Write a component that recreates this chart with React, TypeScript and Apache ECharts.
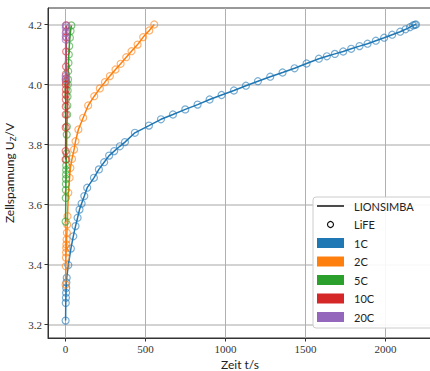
import React, { useEffect, useRef } from "react";
import * as echarts from "echarts";

const xTickValues = [0, 500, 1000, 1500, 2000];
const yTickValues = [3.2, 3.4, 3.6, 3.8, 4.0, 4.2];
const rateNames = ["1C", "2C", "5C", "10C", "20C"];
const rateColors = ["#1f77b4", "#ff7f0e", "#2ca02c", "#d62728", "#9467bd"];
const styleNames = ["LIONSIMBA", "LiFE"];

const t1C = [0, 1, 2, 3, 4, 5, 7, 17, 33, 48, 62, 75, 87, 100, 117, 135, 177, 208, 241, 272, 304, 339, 371, 433, 521, 596, 671, 748, 825, 900, 975, 1052, 1127, 1202, 1279, 1356, 1431, 1506, 1583, 1633, 1683, 1735, 1785, 1837, 1887, 1939, 1991, 2041, 2091, 2125, 2152, 2172, 2183, 2190];
const u1C = [3.213, 3.272, 3.289, 3.306, 3.322, 3.34, 3.356, 3.398, 3.453, 3.494, 3.528, 3.556, 3.583, 3.603, 3.628, 3.656, 3.689, 3.717, 3.741, 3.763, 3.778, 3.794, 3.808, 3.839, 3.863, 3.884, 3.9, 3.917, 3.933, 3.95, 3.965, 3.98, 3.996, 4.011, 4.026, 4.04, 4.054, 4.07, 4.086, 4.094, 4.102, 4.11, 4.119, 4.128, 4.136, 4.146, 4.156, 4.166, 4.176, 4.184, 4.191, 4.197, 4.199, 4.2];

const t2C = [0, 1, 2, 3, 4, 5, 6, 8, 10, 12, 17, 25, 30, 40, 53, 62, 80, 110, 141, 179, 214, 246, 277, 312, 344, 379, 412, 450, 485, 523, 554];
const u2C = [3.333, 3.394, 3.423, 3.44, 3.455, 3.467, 3.483, 3.506, 3.533, 3.561, 3.639, 3.689, 3.722, 3.752, 3.783, 3.811, 3.85, 3.889, 3.93, 3.961, 3.987, 4.008, 4.028, 4.05, 4.069, 4.091, 4.111, 4.133, 4.158, 4.18, 4.2];

const t5C = [0, 1, 1.5, 2, 2.5, 3, 3.5, 4, 5, 6, 7, 8, 10, 11, 12, 13, 14, 15, 16, 18, 20, 23, 27, 31, 36];
const u5C = [3.543, 3.622, 3.648, 3.668, 3.685, 3.7, 3.715, 3.73, 3.75, 3.77, 3.833, 3.86, 3.9, 3.93, 3.96, 3.98, 4.0, 4.017, 4.044, 4.072, 4.1, 4.128, 4.156, 4.178, 4.197];

const t10C = [0, 0.3, 0.6, 0.9, 1.1, 1.3, 1.5, 1.7, 1.9, 2.1, 2.3, 2.6, 3, 3.5, 4, 4.3, 4.6];
const u10C = [3.75, 3.778, 3.857, 3.9, 3.927, 3.95, 3.967, 3.983, 4.0, 4.01, 4.02, 4.035, 4.06, 4.11, 4.157, 4.177, 4.197];

const t20C = [0, 0.2, 0.6, 0.8, 1, 1.2, 1.3];
const u20C = [4.017, 4.028, 4.15, 4.161, 4.172, 4.19, 4.197];

const timeSets = [t1C, t2C, t5C, t10C, t20C];
const voltSets = [u1C, u2C, u5C, u10C, u20C];

const sansFont = "Lato";
const tickFont = "Liberation Serif";

export default function App() {
  const ref = useRef<HTMLDivElement>(null);

  useEffect(() => {
    if (!ref.current) return;
    const chart = echarts.init(ref.current, null, { renderer: "svg" });

    const series: any[] = [];
    rateNames.forEach((name, i) => {
      const data = timeSets[i].map((t, k) => [t, voltSets[i][k]]);
      series.push({
        name: name + " LIONSIMBA",
        type: "line",
        data,
        showSymbol: false,
        symbol: "none",
        lineStyle: { color: rateColors[i], width: 1.5 },
        z: 2 + i * 2,
      });
      series.push({
        name: name + " LiFE",
        type: "scatter",
        data,
        symbol: "circle",
        symbolSize: 7,
        itemStyle: {
          color: "rgba(0,0,0,0)",
          borderColor: rateColors[i],
          borderWidth: 1.2,
          opacity: 0.6,
        },
        z: 3 + i * 2,
      });
    });

    const lx = 313;
    const ly = 197;
    const rowY0 = 206;
    const rowGap = 18.5;
    const legendChildren: any[] = [
      {
        type: "rect",
        id: "lg-box",
        z: 100,
        shape: { x: lx, y: ly, width: 125, height: 131, r: 3 },
        style: { fill: "rgba(255,255,255,0.9)", stroke: "#cccccc", lineWidth: 1 },
      },
      {
        type: "line",
        id: "lg-line",
        z: 101,
        shape: { x1: 317, y1: rowY0, x2: 344, y2: rowY0 },
        style: { stroke: "#111", lineWidth: 1.5 },
      },
      {
        type: "circle",
        id: "lg-circ",
        z: 101,
        shape: { cx: 330.5, cy: rowY0 + rowGap, r: 3 },
        style: { fill: "none", stroke: "#111", lineWidth: 1.2 },
      },
    ];
    rateNames.forEach((_, i) => {
      legendChildren.push({
        type: "rect",
        id: "lg-rect-" + i,
        z: 101,
        shape: { x: 317, y: rowY0 + (i + 2) * rowGap - 5, width: 27, height: 10 },
        style: { fill: rateColors[i] },
      });
    });
    const labels = [...styleNames, ...rateNames];
    labels.forEach((lab, k) => {
      legendChildren.push({
        type: "text",
        id: "lg-text-" + k,
        z: 101,
        x: 354,
        y: rowY0 + k * rowGap,
        style: {
          text: lab,
          fontSize: 11,
          fontFamily: sansFont,
          fill: "#222",
          verticalAlign: "middle",
          align: "left",
        },
      });
    });

    chart.setOption({
      animation: false,
      backgroundColor: "#fff",
      grid: {
        left: 48,
        top: 8,
        width: 384,
        height: 330,
        show: true,
        borderColor: "#333",
        borderWidth: 1,
        backgroundColor: "transparent",
        containLabel: false,
        outerBoundsMode: "none",
      },
      xAxis: {
        type: "value",
        min: -110,
        max: 2290,
        name: "Zeit t/s",
        nameLocation: "middle",
        nameGap: 18,
        nameTextStyle: { fontSize: 12, fontFamily: sansFont, color: "#222" },
        axisLine: { show: true, onZero: false, lineStyle: { color: "#333", width: 1 } },
        axisTick: { show: true, length: 3.5, customValues: xTickValues, lineStyle: { color: "#333" } },
        axisLabel: {
          customValues: xTickValues,
          fontSize: 11,
          fontFamily: tickFont,
          color: "#333",
          margin: 5,
          formatter: (v: number) => String(Math.round(v)),
        },
        splitLine: { show: true, lineStyle: { color: "#b0b0b0", width: 1 } },
      },
      yAxis: {
        type: "value",
        min: 3.155,
        max: 4.255,
        name: "{a|Zellspannung U}{s|Z}{a|/V}",
        nameLocation: "middle",
        nameGap: 30,
        nameTextStyle: {
          rich: {
            a: { fontSize: 12, fontFamily: sansFont, color: "#222", lineHeight: 16 },
            s: { fontSize: 8, fontFamily: sansFont, color: "#222", verticalAlign: "bottom", lineHeight: 12 },
          },
        },
        axisLine: { show: true, onZero: false, lineStyle: { color: "#333", width: 1 } },
        axisTick: { show: true, length: 3.5, customValues: yTickValues, lineStyle: { color: "#333" } },
        axisLabel: {
          customValues: yTickValues,
          fontSize: 11,
          fontFamily: tickFont,
          color: "#333",
          margin: 6,
          formatter: (v: number) => v.toFixed(1),
        },
        splitLine: { show: true, lineStyle: { color: "#d3d3d3", width: 2 } },
      },
      series,
      graphic: [{ type: "group", id: "legend-group", z: 100, children: legendChildren }],
    });

    return () => chart.dispose();
  }, []);

  return <div ref={ref} style={{ width: 430, height: 371, position: "absolute", left: 0, top: 0 }} />;
}
